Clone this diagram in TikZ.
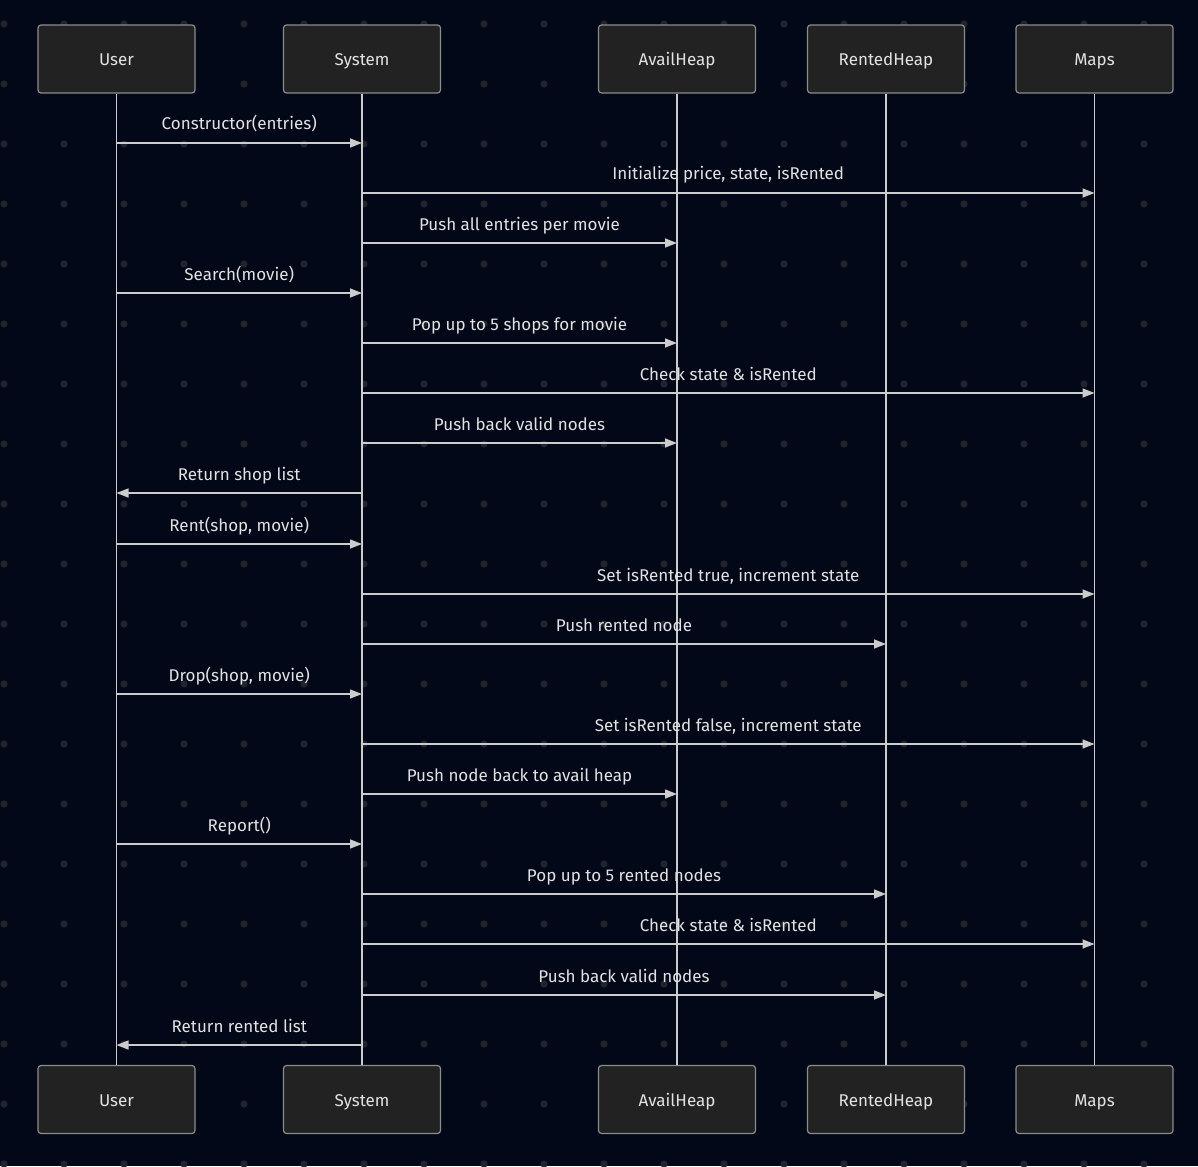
\documentclass[tikz,border=0pt]{standalone}
\usepackage{fontspec}
\setmainfont{Fira Sans}
\usetikzlibrary{arrows.meta}
\definecolor{bgcol}{HTML}{020817}
\definecolor{dotcol}{HTML}{20242D}
\definecolor{boxfill}{HTML}{222222}
\definecolor{boxline}{HTML}{8C8C8C}
\definecolor{linecol}{HTML}{CCCCCC}
\definecolor{txtcol}{HTML}{E2E2E2}
\tikzset{
  actor/.style={draw=boxline, line width=1.2pt, fill=boxfill, rounded corners=3pt,
    minimum width=157pt, minimum height=68pt, text=txtcol, font=\fontsize{17}{20}\selectfont,
    inner sep=0pt, text height=14pt, text depth=1pt},
  lifeline/.style={draw=linecol, line width=1.4pt},
  msg/.style={draw=linecol, line width=1.4pt, -{Triangle[length=12pt,width=9pt]}},
  lbl/.style={text=txtcol, font=\fontsize{17}{20}\selectfont, inner sep=0pt, anchor=base}
}
\newcommand\seqmsg[4]{%
  \draw[msg] (#1.south |- 0,#3) -- (#2.south |- 0,#3)
    node[lbl, midway, yshift=13pt] {#4};}
\begin{document}
\begin{tikzpicture}[x=1pt, y=-1pt]
  \useasboundingbox (0,0) rectangle (1198,1166);
  \fill[bgcol] (0,0) rectangle (1198,1166);
  % dotted backdrop
  \foreach \dx in {4,64,...,1190} {
    \foreach \dy in {24,84,...,1166} {
      \fill[dotcol] (\dx,\dy) circle (3.6pt);
    }
  }
  % participants, top row
  \node[actor] (userT)   at (116.5,59) {User};
  \node[actor] (sysT)    at (362,59)   {System};
  \node[actor] (availT)  at (677,59)   {AvailHeap};
  \node[actor] (rentT)   at (886,59)   {RentedHeap};
  \node[actor] (mapsT)   at (1094.5,59) {Maps};
  % participants, bottom row
  \node[actor] (userB)   at (116.5,1099.5) {User};
  \node[actor] (sysB)    at (362,1099.5)   {System};
  \node[actor] (availB)  at (677,1099.5)   {AvailHeap};
  \node[actor] (rentB)   at (886,1099.5)   {RentedHeap};
  \node[actor] (mapsB)   at (1094.5,1099.5) {Maps};
  % lifelines
  \foreach \p in {user,sys,avail,rent,maps} {
    \draw[lifeline] (\p T.south) -- (\p B.north);
  }
  % messages
  \seqmsg{userT}{sysT}{143}{Constructor(entries)}
  \seqmsg{sysT}{mapsT}{193}{Initialize price, state, isRented}
  \seqmsg{sysT}{availT}{243}{Push all entries per movie}
  \seqmsg{userT}{sysT}{293}{Search(movie)}
  \seqmsg{sysT}{availT}{343}{Pop up to 5 shops for movie}
  \seqmsg{sysT}{mapsT}{393}{Check state \& isRented}
  \seqmsg{sysT}{availT}{443}{Push back valid nodes}
  \seqmsg{sysT}{userT}{493}{Return shop list}
  \seqmsg{userT}{sysT}{544}{Rent(shop, movie)}
  \seqmsg{sysT}{mapsT}{594}{Set isRented true, increment state}
  \seqmsg{sysT}{rentT}{644}{Push rented node}
  \seqmsg{userT}{sysT}{694}{Drop(shop, movie)}
  \seqmsg{sysT}{mapsT}{744}{Set isRented false, increment state}
  \seqmsg{sysT}{availT}{794}{Push node back to avail heap}
  \seqmsg{userT}{sysT}{844}{Report()}
  \seqmsg{sysT}{rentT}{894}{Pop up to 5 rented nodes}
  \seqmsg{sysT}{mapsT}{944}{Check state \& isRented}
  \seqmsg{sysT}{rentT}{995}{Push back valid nodes}
  \seqmsg{sysT}{userT}{1045}{Return rented list}
\end{tikzpicture}
\end{document}
